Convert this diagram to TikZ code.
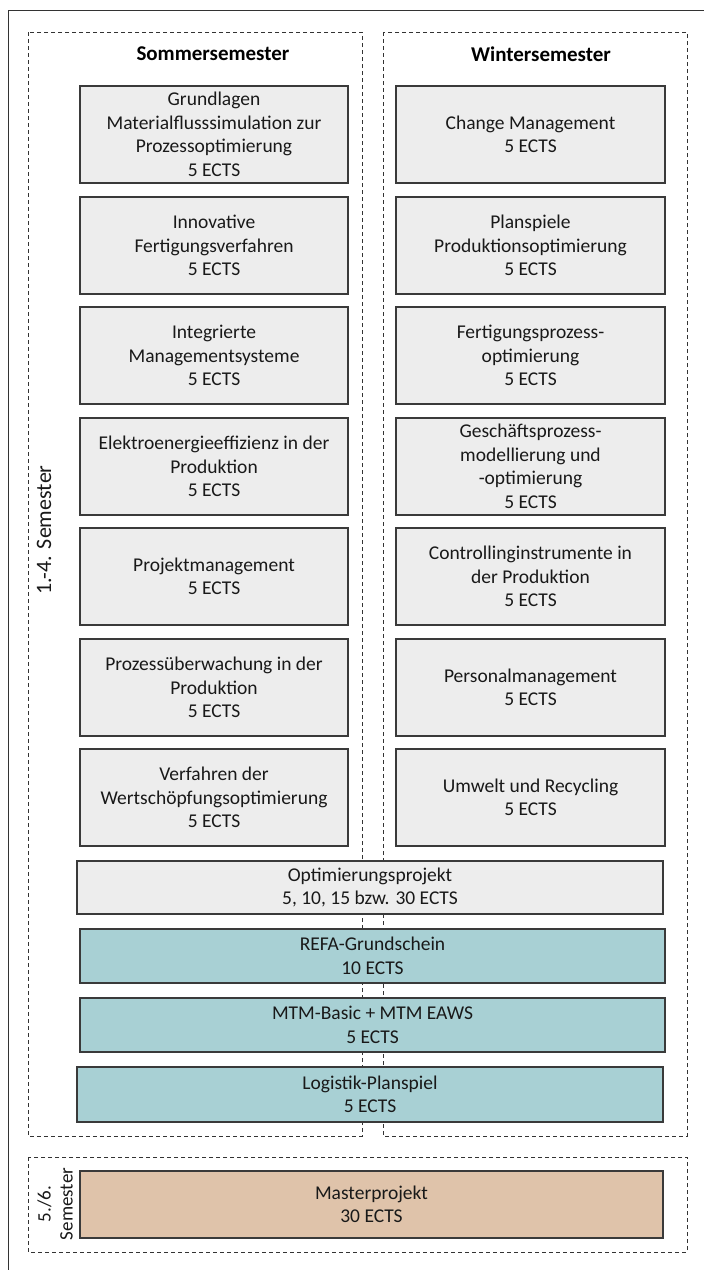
\documentclass[tikz,border=0pt]{standalone}
\usepackage{fontspec}
\setmainfont{Carlito}
\definecolor{boxgrey}{HTML}{EDEDED}
\definecolor{boxline}{HTML}{3A3A3A}
\definecolor{tealfill}{HTML}{A8D0D4}
\definecolor{tanfill}{HTML}{DFC3AA}
\begin{document}
\begin{tikzpicture}[x=1pt,y=-1pt,
  txt/.style={font=\fontsize{19.5}{23.5}\selectfont, align=center, text=black!90},
  mod/.style={txt, draw=boxline, line width=1.2pt, fill=boxgrey, inner sep=0pt, minimum width=268, minimum height=97},
  wide/.style={txt, draw=boxline, line width=1.2pt, inner sep=0pt, minimum width=585, minimum height=54},
  dbox/.style={draw=black!80, line width=0.8pt, dash pattern=on 4pt off 3pt},
  head/.style={font=\fontsize{21}{24}\selectfont\bfseries, text=black}]
\useasboundingbox (0,0) rectangle (704,1270);
\fill[white] (0,0) rectangle (704,1270);
% outer frame
\draw[black!80, line width=1pt] (8,1270) -- (8,10) -- (704,10);
% dashed groups
\draw[dbox] (28,32) rectangle (362,1136);
\draw[dbox] (383,32) rectangle (687,1136);
\draw[dbox] (28,1157) rectangle (687,1252);
% headings
\node[head] (hs) at (213,54) {Sommersemester};
\node[head] (hw) at (541,54) {Wintersemester};
% left column
\node[mod] (l1) at (214,134.5) {Grundlagen\\Materialflusssimulation zur\\Prozessoptimierung\\5 ECTS};
\node[mod] (l2) at (214,245.5) {Innovative\\Fertigungsverfahren\\5 ECTS};
\node[mod] (l3) at (214,355.5) {Integrierte\\Managementsysteme\\5 ECTS};
\node[mod] (l4) at (214,466.5) {Elektroenergieeffizienz in der\\Produktion\\5 ECTS};
\node[mod] (l5) at (214,576.5) {Projektmanagement\\5 ECTS};
\node[mod] (l6) at (214,687.5) {Prozessüberwachung in der\\Produktion\\5 ECTS};
\node[mod] (l7) at (214,797.5) {Verfahren der\\Wertschöpfungsoptimierung\\5 ECTS};
% right column
\node[mod, minimum width=269] (r1) at (530.5,134.5) {Change Management\\5 ECTS};
\node[mod, minimum width=269] (r2) at (530.5,245.5) {Planspiele\\Produktionsoptimierung\\5 ECTS};
\node[mod, minimum width=269] (r3) at (530.5,355.5) {Fertigungsprozess-\\optimierung\\5 ECTS};
\node[mod, minimum width=269] (r4) at (530.5,466.5) {Geschäftsprozess-\\modellierung und\\-optimierung\\5 ECTS};
\node[mod, minimum width=269] (r5) at (530.5,576.5) {Controllinginstrumente in\\der Produktion\\5 ECTS};
\node[mod, minimum width=269] (r6) at (530.5,687.5) {Personalmanagement\\5 ECTS};
\node[mod, minimum width=269] (r7) at (530.5,797.5) {Umwelt und Recycling\\5 ECTS};
% wide modules
\node[wide, fill=boxgrey, minimum width=586, minimum height=53] (op) at (370,887.5) {Optimierungsprojekt\\5, 10, 15 bzw. 30 ECTS};
\node[wide, fill=tealfill] (refa) at (372.5,956) {REFA-Grundschein\\10 ECTS};
\node[wide, fill=tealfill] (mtm) at (372.5,1025) {MTM-Basic + MTM EAWS\\5 ECTS};
\node[wide, fill=tealfill, minimum width=586, minimum height=55] (log) at (370,1094.5) {Logistik-Planspiel\\5 ECTS};
\node[wide, fill=tanfill, minimum width=583, minimum height=67] (mp) at (371.5,1204.5) {Masterprojekt\\30 ECTS};
% side labels
\node[txt, rotate=90, font=\fontsize{22}{24}\selectfont] (sem14) at (44,530) {1.-4. Semester};
\node[txt, rotate=90, font=\fontsize{19}{22}\selectfont] (sem56) at (55,1204) {5./6.\\Semester};
\end{tikzpicture}
\end{document}
